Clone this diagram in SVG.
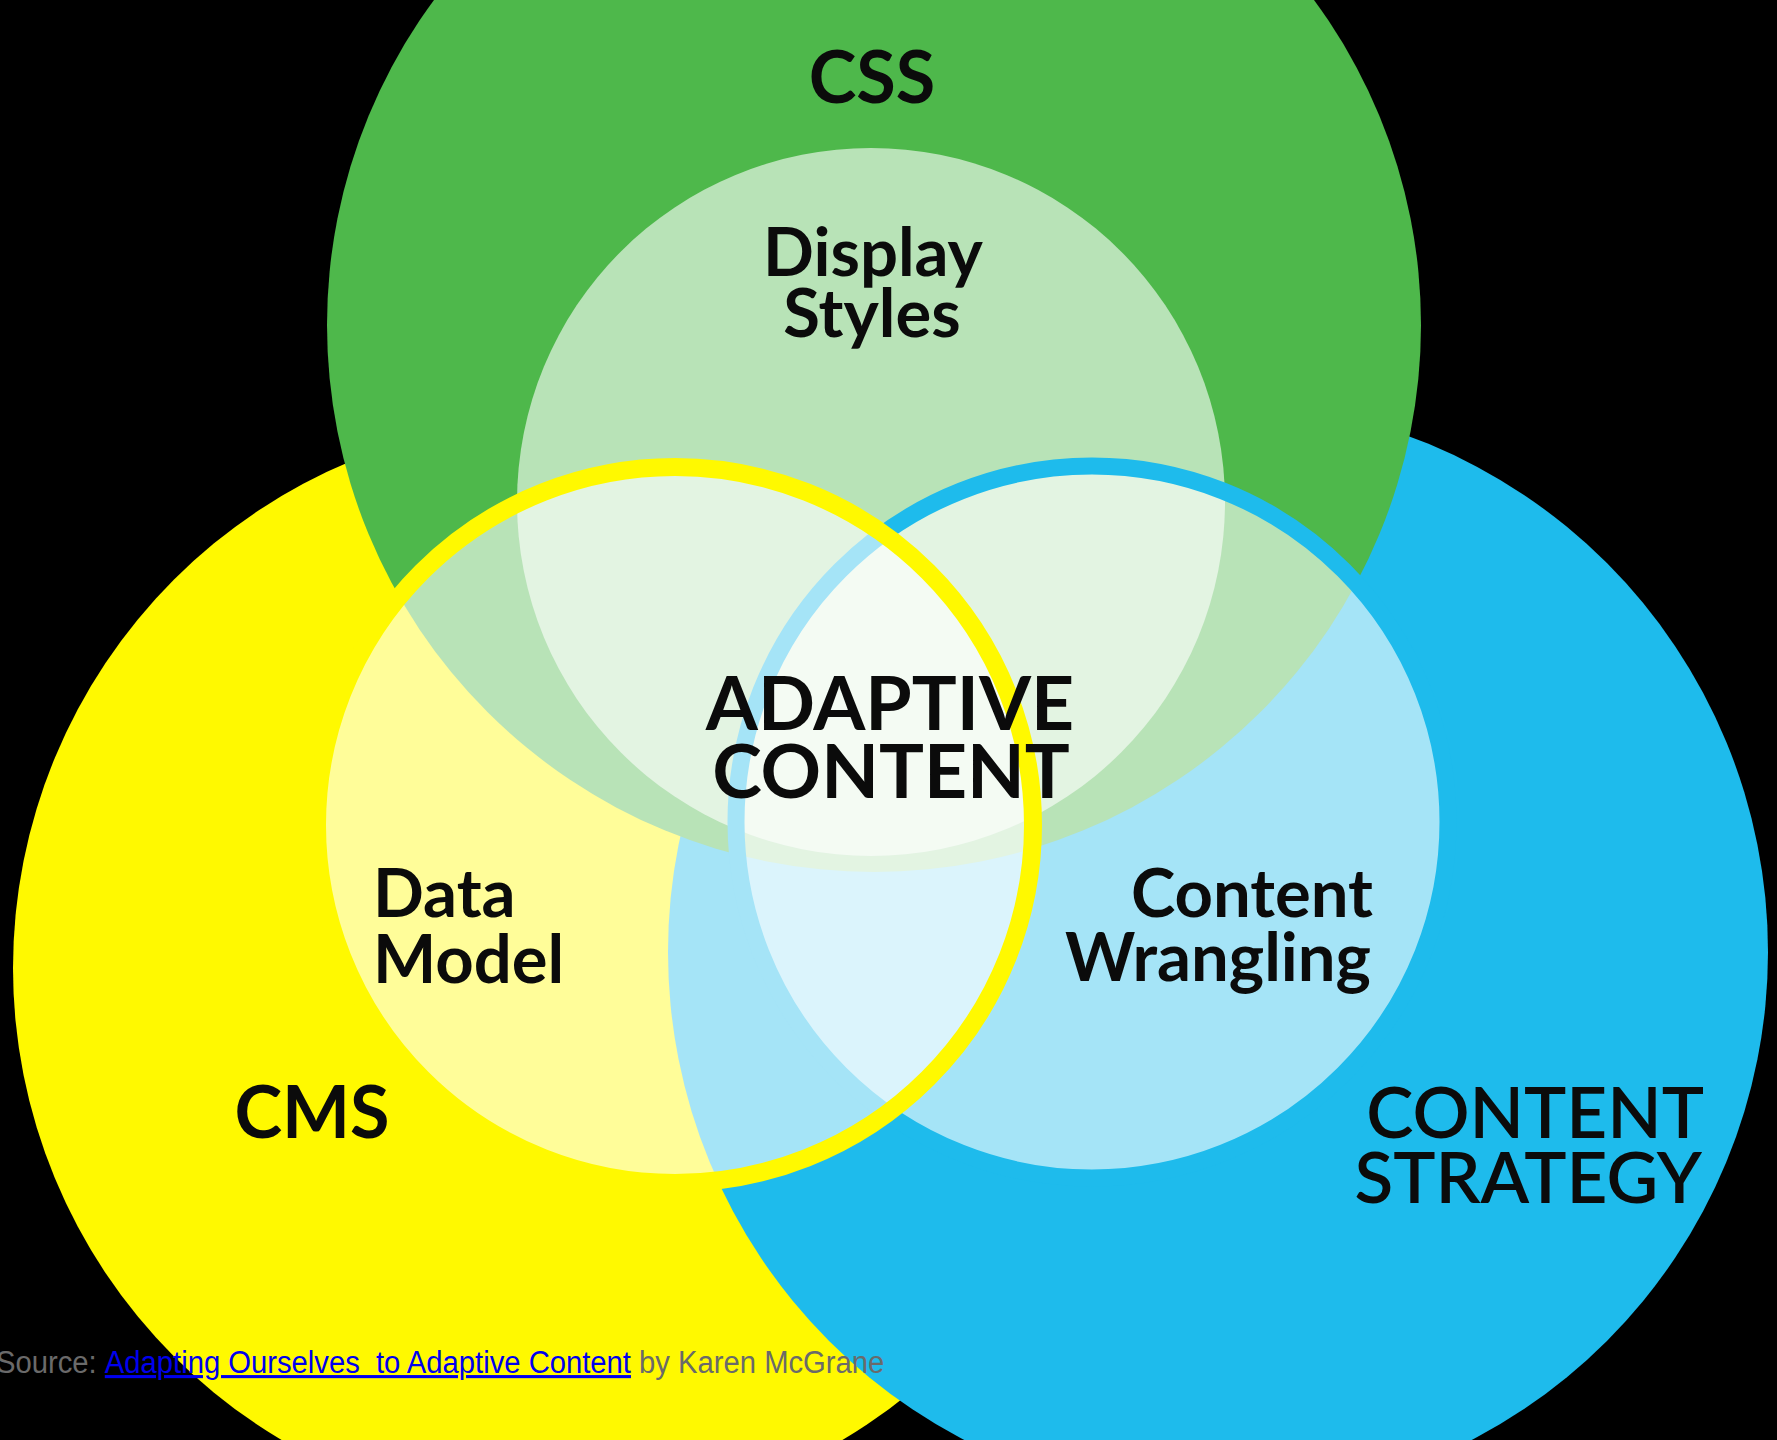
<svg xmlns="http://www.w3.org/2000/svg" width="1777" height="1440" viewBox="0 0 1777 1440">
  <style>
    .lbl { font-family: Lato, "Open Sans", "Liberation Sans", sans-serif; font-weight: 700; fill: #0b0b0b; }
    .big { font-size: 72px; }
    .inner { font-size: 67px; }
    .center { font-size: 75px; }
    .strat { font-size: 71px; font-weight: 600; }
    .veil { fill: #ffffff; fill-opacity: 0.6; }
    .src { font-family: "Liberation Sans", Arial, sans-serif; font-size: 31px; fill: #6a6a6a; white-space: pre; }
    .link { fill: #0000ee; text-decoration: underline; }
  </style>
  <rect x="0" y="0" width="1777" height="1440" fill="#000000"/>

  <g id="cms">
    <circle cx="562" cy="968" r="549" fill="#fff900"/>
    <text class="lbl big" x="312" y="1138" text-anchor="middle">CMS</text>
  </g>

  <g id="content-strategy">
    <circle cx="1218" cy="952" r="550" fill="#1ebbec"/>
    <text class="lbl strat" x="1704" y="1138" text-anchor="end">CONTENT</text>
    <text class="lbl strat" x="1702" y="1203" text-anchor="end">STRATEGY</text>
  </g>

  <g id="css">
    <circle cx="874" cy="325" r="547" fill="#4eb84b"/>
    <text class="lbl big" x="872" y="103" text-anchor="middle">CSS</text>
  </g>

  <g id="display-styles">
    <circle class="veil" cx="871" cy="502" r="354"/>
    <text class="lbl inner" x="873" y="276" text-anchor="middle">Display</text>
    <text class="lbl inner" x="872" y="337" text-anchor="middle">Styles</text>
  </g>

  <g id="content-wrangling">
    <circle class="veil" cx="1092" cy="822" r="356" stroke="#1ebbec" stroke-width="17"/>
    <text class="lbl inner" x="1373" y="917" text-anchor="end">Content</text>
    <text class="lbl inner" x="1371" y="981" text-anchor="end">Wrangling</text>
  </g>

  <g id="data-model">
    <circle class="veil" cx="675" cy="825" r="358" stroke="#fff900" stroke-width="18"/>
    <text class="lbl inner" x="373" y="917">Data</text>
    <text class="lbl inner" x="373" y="983">Model</text>
  </g>

  <g id="adaptive-content">
    <text class="lbl center" x="890" y="730" text-anchor="middle">ADAPTIVE</text>
    <text class="lbl center" x="891" y="798" text-anchor="middle">CONTENT</text>
  </g>

  <g id="connectors"></g>

  <g id="source" transform="translate(-4 1373) scale(0.943 1)">
    <text class="src" x="0" y="0">Source: <tspan class="link">Adapting Ourselves  to Adaptive Content</tspan> by Karen McGrane</text>
  </g>
</svg>
